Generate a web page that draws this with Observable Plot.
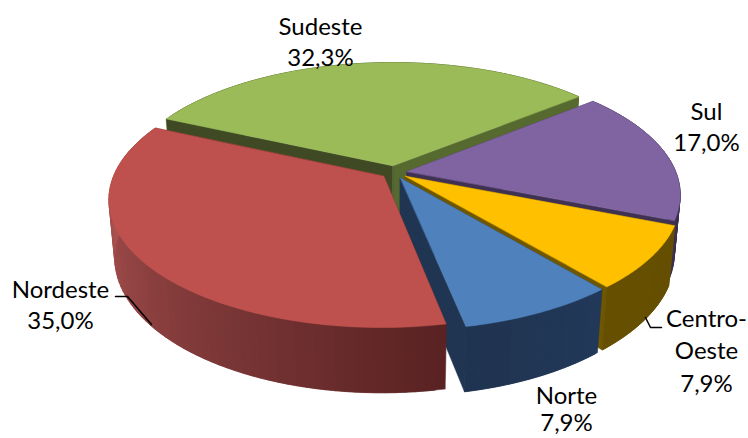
<!DOCTYPE html>
<html><head><meta charset="utf-8">
<style>html,body{margin:0;padding:0;background:#fff}svg{display:block}</style>
<script src="https://cdn.jsdelivr.net/npm/d3@7"></script>
<script src="https://cdn.jsdelivr.net/npm/@observablehq/plot@0.6"></script>
</head><body><div id="chart"></div>
<script>
// Data, clockwise from the first slice
const regions = ["Sudeste","Sul","Centro-Oeste","Norte","Nordeste"];
const shares  = [32.3,17.0,7.9,7.9,35.0];
const shareLabels = ["32,3%","17,0%","7,9%","7,9%","35,0%"];
// Colours
const topColors = ["#9BBB59","#8064A2","#FFC000","#4F81BD","#BE504D"];
const rimStart  = ["#4F6228","#3F3151","#665000","#23395A","#5A2223"];
const rimEnd    = ["#4F6228","#3F3151","#665000","#1F3450","#A85250"];
const cutEnd    = ["#566A30","#3F3151","#6E5700","#1F3552","#632625"];
const cutStart  = ["#3F4A24","#3F3151","#6E5700","#1F3552","#632625"];
// Pie model and camera
const startAngle = 155.5;
const explode = [0.055,0.047,0.05,0.05,0.05];
const cx = 394, cy = 172, Sx = 269, Sy = 123.4, Sz = 58, persp = 0.174, steep = 0.02;
const rad = Math.PI/180;
function project(X,Y,Z){
  const w = 1 + persp*Y - steep*Z;
  return {x: cx + Sx*X/w, y: cy - (Sy*Y + Sz*Z)/w};
}
const total = d3.sum(shares);
let acc = startAngle;
const slices = regions.map((name,i)=>{
  const a0 = acc, a1 = acc - shares[i]/total*360; acc = a1;
  const m = (a0+a1)/2*rad;
  return {i,name,a0,a1,ox:explode[i]*Math.cos(m),oy:explode[i]*Math.sin(m)};
});
const polys = []; let id = 0;
function addPoly(pts,color){ id++; for(const p of pts) polys.push({id,x:p.x,y:p.y,color}); }
function pt(s,r,a,Z){ return project(s.ox+r*Math.cos(a*rad), s.oy+r*Math.sin(a*rad), Z); }
for(const s of slices){
  const k = s.i, n = 70;
  const as = d3.range(n+1).map(j=>s.a0+(s.a1-s.a0)*j/n);
  const drawCuts = () => {
    addPoly([pt(s,0,0,0),pt(s,1,s.a1,0),pt(s,1,s.a1,-1),pt(s,0,0,-1)],cutEnd[k]);
    addPoly([pt(s,0,0,0),pt(s,1,s.a0,0),pt(s,1,s.a0,-1),pt(s,0,0,-1)],cutStart[k]);
  };
  // the rim of a slice at the back lies wholly behind its cut faces
  const rimIsBehind = Math.sin((s.a0+s.a1)/2*rad) > 0.9;
  if(!rimIsBehind) drawCuts();
  // the front wall shades across its visible part; each strip runs into the next to hide seams
  const span = k===4 ? 97 : s.a0-s.a1;
  for(let j=0;j<n;j++){
    const e = as[Math.min(n,j+2)];
    const u = Math.min(1,(s.a0-as[j])/span);
    addPoly([pt(s,1,as[j],0),pt(s,1,e,0),pt(s,1,e,-1),pt(s,1,as[j],-1)],
      d3.interpolateRgb(rimStart[k],rimEnd[k])(u));
  }
  if(rimIsBehind) drawCuts();
  addPoly([pt(s,0,0,0),...as.map(a=>pt(s,1,a,0))],topColors[k]);
}
// Label layout
const labelLines = [["Sudeste",shareLabels[0]],["Sul",shareLabels[1]],["Centro-","Oeste",shareLabels[2]],["Norte",shareLabels[3]],["Nordeste",shareLabels[4]]];
const labelX = [320,706,706,566,60];
const labelY = [[27,58],[112,143],[319,351,384],[396,423],[290,321]];
const labels = labelLines.flatMap((ls,i)=>ls.map((t,j)=>({t,x:labelX[i],y:labelY[i][j]})));
const leaderX = [[115,127,151],[661,650,645]];
const leaderY = [[296,296,324],[327,327,317]];
const leaders = leaderX.flatMap((xs,i)=>xs.map((x,j)=>({i,x,y:leaderY[i][j]})));

const plot = Plot.plot({
  width:748,height:438,margin:0,
  x:{domain:[0,748],range:[0,748],axis:null},
  y:{domain:[0,438],range:[0,438],axis:null},
  color:{type:"identity"},
  style:{background:"#fff"},
  marks:[
    Plot.line(polys,{x:"x",y:"y",z:"id",fill:"color",stroke:"color",strokeWidth:0.5,curve:"linear-closed"}),
    Plot.line(leaders,{x:"x",y:"y",z:"i",stroke:"#000",strokeWidth:1.5,curve:"linear"}),
    Plot.text(labels,{x:"x",y:"y",text:"t",fontSize:24,fontFamily:"Lato",fill:"#000",textAnchor:"middle",lineAnchor:"middle"})
  ]
});
document.getElementById("chart").append(plot);
</script></body></html>
